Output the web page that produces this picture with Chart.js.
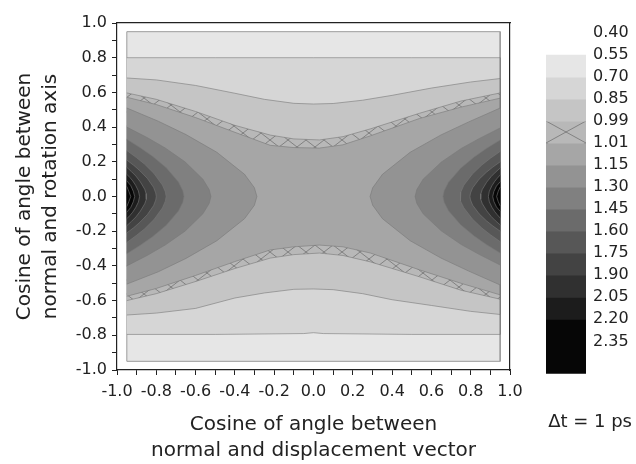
<!DOCTYPE html>
<html><head><meta charset="utf-8">
<script src="https://cdn.jsdelivr.net/npm/chart.js@4.4.1/dist/chart.umd.min.js"></script>
<style>
html,body{margin:0;padding:0;background:#fff;overflow:hidden;}
#wrap{position:relative;width:636px;height:464px;}
#main{position:absolute;left:0;top:0;}
#bar{position:absolute;left:500px;top:0;}
</style></head><body>
<div id="wrap"><canvas id="main" width="636" height="464"></canvas><canvas id="bar" width="136" height="464"></canvas></div>
<script>
// ---------- data ----------
const axisTicks = [-1.0,-0.9,-0.8,-0.7,-0.6,-0.5,-0.4,-0.3,-0.2,-0.1,0.0,0.1,0.2,0.3,0.4,0.5,0.6,0.7,0.8,0.9,1.0];
const tickLabelValues = [-1.0,-0.8,-0.6,-0.4,-0.2,0.0,0.2,0.4,0.6,0.8,1.0];
const tickLabels = ['-1.0','-0.8','-0.6','-0.4','-0.2','0.0','0.2','0.4','0.6','0.8','1.0'];

const levelLabels = ['0.40','0.55','0.70','0.85','0.99','1.01','1.15','1.30','1.45','1.60','1.75','1.90','2.05','2.20','2.35'];
const barStart = [1,2,3,4,5,6,7,8,9,10,11,12,13];
const barEnd   = [2,3,4,5,6,7,8,9,10,11,12,13,15.45];

// contour polygons (x = cos displacement, y = cos rotation axis)
const gridArea = [[-0.95,0.95],[0.95,0.95],[0.95,-0.95],[-0.95,-0.95],[-0.95,0.95]];
const level070 = [[-0.95,0.80],[-0.5,0.80],[0,0.80],[0.5,0.80],[0.95,0.80],[0.95,-0.795],[0.5,-0.795],[0.05,-0.79],[0,-0.785],[-0.05,-0.79],[-0.5,-0.795],[-0.95,-0.795]];
const level085 = [[-0.95,0.683],[-0.8,0.672],[-0.6,0.64],[-0.4,0.595],[-0.25,0.56],[-0.1,0.537],[0,0.533],[0.1,0.536],[0.25,0.555],[0.4,0.583],[0.6,0.625],[0.8,0.66],[0.95,0.68],
  [0.95,-0.68],[0.8,-0.662],[0.6,-0.628],[0.4,-0.595],[0.25,-0.56],[0.1,-0.537],[0,-0.533],[-0.1,-0.535],[-0.25,-0.556],[-0.4,-0.585],[-0.6,-0.645],[-0.8,-0.672],[-0.95,-0.683]];
const level099 = [[-0.95,0.597],[-0.8,0.56],[-0.6,0.49],[-0.4,0.41],[-0.22,0.354],[-0.1,0.332],[0.03,0.326],[0.15,0.345],[0.29,0.39],[0.54,0.48],[0.75,0.55],[0.95,0.597],
  [0.95,-0.592],[0.75,-0.54],[0.54,-0.463],[0.29,-0.377],[0.15,-0.34],[0.03,-0.326],[-0.1,-0.335],[-0.22,-0.355],[-0.4,-0.415],[-0.6,-0.49],[-0.8,-0.56],[-0.95,-0.60]];
const level101 = [[-0.95,0.572],[-0.8,0.53],[-0.6,0.455],[-0.4,0.37],[-0.22,0.295],[-0.1,0.282],[0.03,0.279],[0.15,0.298],[0.29,0.35],[0.54,0.45],[0.75,0.515],[0.95,0.567],
  [0.95,-0.567],[0.75,-0.50],[0.54,-0.423],[0.29,-0.326],[0.15,-0.29],[0.03,-0.28],[-0.1,-0.29],[-0.22,-0.308],[-0.4,-0.375],[-0.6,-0.455],[-0.8,-0.53],[-0.95,-0.575]];
const level115L = [[-0.95,0.51],[-0.79,0.434],[-0.649,0.357],[-0.492,0.255],[-0.351,0.128],[-0.301,0.051],[-0.288,0],[-0.301,-0.051],[-0.351,-0.128],[-0.492,-0.255],[-0.649,-0.357],[-0.79,-0.434],[-0.95,-0.505]];
const level115R = [[0.95,0.51],[0.79,0.43],[0.649,0.355],[0.492,0.255],[0.351,0.128],[0.301,0.05],[0.288,0],[0.301,-0.05],[0.351,-0.128],[0.492,-0.255],[0.649,-0.355],[0.79,-0.43],[0.95,-0.51]];
const level130L = [[-0.95,0.40],[-0.847,0.34],[-0.755,0.28],[-0.654,0.20],[-0.563,0.10],[-0.531,0.04],[-0.522,0],[-0.531,-0.04],[-0.563,-0.10],[-0.654,-0.20],[-0.755,-0.28],[-0.847,-0.34],[-0.95,-0.40]];
const level130R = [[0.95,0.395],[0.845,0.335],[0.752,0.277],[0.65,0.198],[0.558,0.1],[0.526,0.04],[0.517,0],[0.526,-0.04],[0.558,-0.1],[0.65,-0.198],[0.752,-0.277],[0.845,-0.335],[0.95,-0.395]];
const level145L = [[-0.95,0.33],[-0.88,0.28],[-0.818,0.231],[-0.749,0.165],[-0.687,0.083],[-0.665,0.033],[-0.659,0],[-0.665,-0.033],[-0.687,-0.083],[-0.749,-0.165],[-0.818,-0.231],[-0.88,-0.28],[-0.95,-0.33]];
const level145R = [[0.95,0.326],[0.88,0.277],[0.818,0.228],[0.749,0.163],[0.687,0.082],[0.665,0.033],[0.659,0],[0.665,-0.033],[0.687,-0.082],[0.749,-0.163],[0.818,-0.228],[0.88,-0.277],[0.95,-0.326]];
const level160L = [[-0.95,0.265],[-0.902,0.225],[-0.859,0.186],[-0.812,0.133],[-0.769,0.066],[-0.754,0.027],[-0.75,0],[-0.754,-0.027],[-0.769,-0.066],[-0.812,-0.133],[-0.859,-0.186],[-0.902,-0.225],[-0.95,-0.265]];
const level160R = [[0.95,0.26],[0.901,0.221],[0.857,0.182],[0.809,0.13],[0.765,0.065],[0.75,0.026],[0.746,0],[0.75,-0.026],[0.765,-0.065],[0.809,-0.13],[0.857,-0.182],[0.901,-0.221],[0.95,-0.26]];
const level175L = [[-0.95,0.21],[-0.914,0.179],[-0.882,0.147],[-0.846,0.105],[-0.814,0.053],[-0.803,0.021],[-0.80,0],[-0.803,-0.021],[-0.814,-0.053],[-0.846,-0.105],[-0.882,-0.147],[-0.914,-0.179],[-0.95,-0.21]];
const level175R = [[0.95,0.2],[0.913,0.17],[0.88,0.14],[0.843,0.1],[0.81,0.05],[0.799,0.02],[0.796,0],[0.799,-0.02],[0.81,-0.05],[0.843,-0.1],[0.88,-0.14],[0.913,-0.17],[0.95,-0.2]];
const level190L = [[-0.95,0.168],[-0.926,0.143],[-0.904,0.118],[-0.881,0.084],[-0.859,0.042],[-0.852,0.017],[-0.85,0],[-0.852,-0.017],[-0.859,-0.042],[-0.881,-0.084],[-0.904,-0.118],[-0.926,-0.143],[-0.95,-0.168]];
const level190R = [[0.95,0.164],[0.926,0.14],[0.904,0.115],[0.881,0.082],[0.859,0.041],[0.852,0.016],[0.85,0],[0.852,-0.016],[0.859,-0.041],[0.881,-0.082],[0.904,-0.115],[0.926,-0.14],[0.95,-0.164]];
const level205L = [[-0.95,0.128],[-0.934,0.109],[-0.92,0.09],[-0.905,0.064],[-0.891,0.032],[-0.885,0],[-0.891,-0.032],[-0.905,-0.064],[-0.92,-0.09],[-0.934,-0.109],[-0.95,-0.128]];
const level205R = [[0.95,0.124],[0.935,0.105],[0.922,0.087],[0.908,0.062],[0.895,0.031],[0.89,0],[0.895,-0.031],[0.908,-0.062],[0.922,-0.087],[0.935,-0.105],[0.95,-0.124]];
const level220L = [[-0.95,0.09],[-0.93,0.063],[-0.917,0.03],[-0.91,0],[-0.917,-0.03],[-0.93,-0.063],[-0.95,-0.09]];
const level220R = [[0.95,0.085],[0.931,0.06],[0.918,0.029],[0.912,0],[0.918,-0.029],[0.931,-0.06],[0.95,-0.085]];
const level235L = [[-0.95,0.058],[-0.94,0.03],[-0.93,0],[-0.94,-0.03],[-0.95,-0.058]];
const level235R = [[0.95,0.055],[0.94,0.029],[0.932,0],[0.94,-0.029],[0.95,-0.055]];

// ---------- styles ----------
const bandColors = ['#e6e6e6','#d6d6d6','#c5c5c5','#b8b8b8','#a6a6a6','#939393','#808080','#6b6b6b','#575757','#434343','#303030','#1c1c1c','#060606'];
const HATCH_BAND = 3;

Chart.defaults.font.family = "'DejaVu Sans', 'Liberation Sans', sans-serif";
Chart.defaults.color = '#222';

function makeHatch(base, w, h, ox, oy) {
  const c = document.createElement('canvas');
  c.width = w; c.height = h;
  const g = c.getContext('2d');
  g.fillStyle = base; g.fillRect(0, 0, w, h);
  g.strokeStyle = '#6a6a6a'; g.lineWidth = 0.7;
  g.beginPath(); g.moveTo(0, 0); g.lineTo(w, h); g.moveTo(w, 0); g.lineTo(0, h); g.stroke();
  const p = g.createPattern(c, 'repeat');
  if (ox !== undefined && p.setTransform) p.setTransform(new DOMMatrix().translate(ox, oy));
  return p;
}
const hatch = makeHatch(bandColors[HATCH_BAND], 18, 14);
const barHatch = makeHatch(bandColors[HATCH_BAND], 40, 22, 46, 121);

const contourLevels = [
  [gridArea], [level070], [level085], [level099], [level101],
  [level115L, level115R], [level130L, level130R], [level145L, level145R],
  [level160L, level160R], [level175L, level175R], [level190L, level190R],
  [level205L, level205R], [level220L, level220R], [level235L, level235R]
];

const datasets = [];
contourLevels.forEach((polys, k) => {
  const band = Math.min(k, bandColors.length - 1);
  polys.forEach(p => {
    datasets.push({
      data: p.map(([x, y]) => ({x, y})),
      fill: 'shape',
      backgroundColor: band === HATCH_BAND ? hatch : bandColors[band],
      borderColor: k === 0 ? '#9c9c9c' : 'rgba(120,120,120,0.85)',
      borderWidth: k === 0 ? 1 : 0.7,
      pointRadius: 0, pointHoverRadius: 0, tension: 0,
      order: 100 - k
    });
  });
});

function labelFor(value) {
  for (let i = 0; i < tickLabelValues.length; i++) {
    if (Math.abs(tickLabelValues[i] - value) < 1e-6) return tickLabels[i];
  }
  return '';
}

const axisCommon = {
  type: 'linear', min: -1, max: 1,
  afterBuildTicks: s => { s.ticks = axisTicks.map(v => ({value: v})); },
  grid: {drawOnChartArea: false, drawTicks: true, tickLength: 5, tickColor: '#222', tickWidth: 1},
  border: {color: '#222', width: 1.2}
};

new Chart(document.getElementById('main'), {
  type: 'line',
  data: {datasets},
  options: {
    responsive: false, animation: false, events: [],
    layout: {padding: {left: 0, top: 23, right: 126, bottom: 0}},
    plugins: {legend: {display: false}, tooltip: {enabled: false}, title: {display: false}},
    scales: {
      x: Object.assign({}, axisCommon, {
        position: 'bottom',
        afterFit: s => { s.height = 94; },
        ticks: {callback: v => labelFor(v), autoSkip: false, maxRotation: 0, minRotation: 0, padding: 7, color: '#222', font: {size: 16}},
        title: {display: true, text: ['Cosine of angle between', 'normal and displacement vector'], color: '#222',
                font: {size: 20, lineHeight: 1.3}, padding: {top: 0, bottom: 0}}
      }),
      y: Object.assign({}, axisCommon, {
        position: 'left',
        afterFit: s => { s.width = 117; },
        ticks: {callback: v => labelFor(v), autoSkip: false, padding: 5, color: '#222', font: {size: 16}},
        title: {display: true, text: ['Cosine of angle between', 'normal and rotation axis'], color: '#222',
                font: {size: 20, lineHeight: 1.3}, padding: {top: 12, bottom: 0}}
      }),
      xTop: {type: 'linear', position: 'top', min: -1, max: 1, ticks: {display: false},
             grid: {display: false, drawTicks: false}, border: {color: '#222', width: 1.2},
             afterFit: s => { s.height = 0; }},
      yRight: {type: 'linear', position: 'right', min: -1, max: 1, ticks: {display: false},
               grid: {display: false, drawTicks: false}, border: {color: '#222', width: 1.2},
               afterFit: s => { s.width = 0; }}
    }
  }
});

// ---------- colour bar ----------
const barDatasets = barStart.map((lo, i) => ({
  data: [[lo, barEnd[i]]],
  backgroundColor: i === HATCH_BAND ? barHatch : bandColors[i],
  borderWidth: 0, grouped: false, barPercentage: 1, categoryPercentage: 1
}));

new Chart(document.getElementById('bar'), {
  type: 'bar',
  data: {labels: [''], datasets: barDatasets},
  options: {
    responsive: false, animation: false, events: [],
    layout: {padding: {left: 46, top: 33, right: 4, bottom: 0}},
    plugins: {
      legend: {display: false}, tooltip: {enabled: false},
      title: {display: true, text: '\u0394t = 1 ps', position: 'bottom', align: 'end', color: '#222',
              font: {size: 18, weight: 'normal'}, padding: {top: 37, bottom: 31}}
    },
    scales: {
      x: {display: false},
      y: {
        type: 'linear', position: 'right', reverse: true, min: 0, max: 15.5,
        afterBuildTicks: s => { s.ticks = levelLabels.map((_, i) => ({value: i})); },
        afterFit: s => { s.width = 46; },
        ticks: {callback: (v, i) => levelLabels[i], padding: 7, color: '#222', font: {size: 16}, autoSkip: false},
        grid: {display: false, drawTicks: false},
        border: {display: false}
      }
    }
  }
});
</script></body></html>
